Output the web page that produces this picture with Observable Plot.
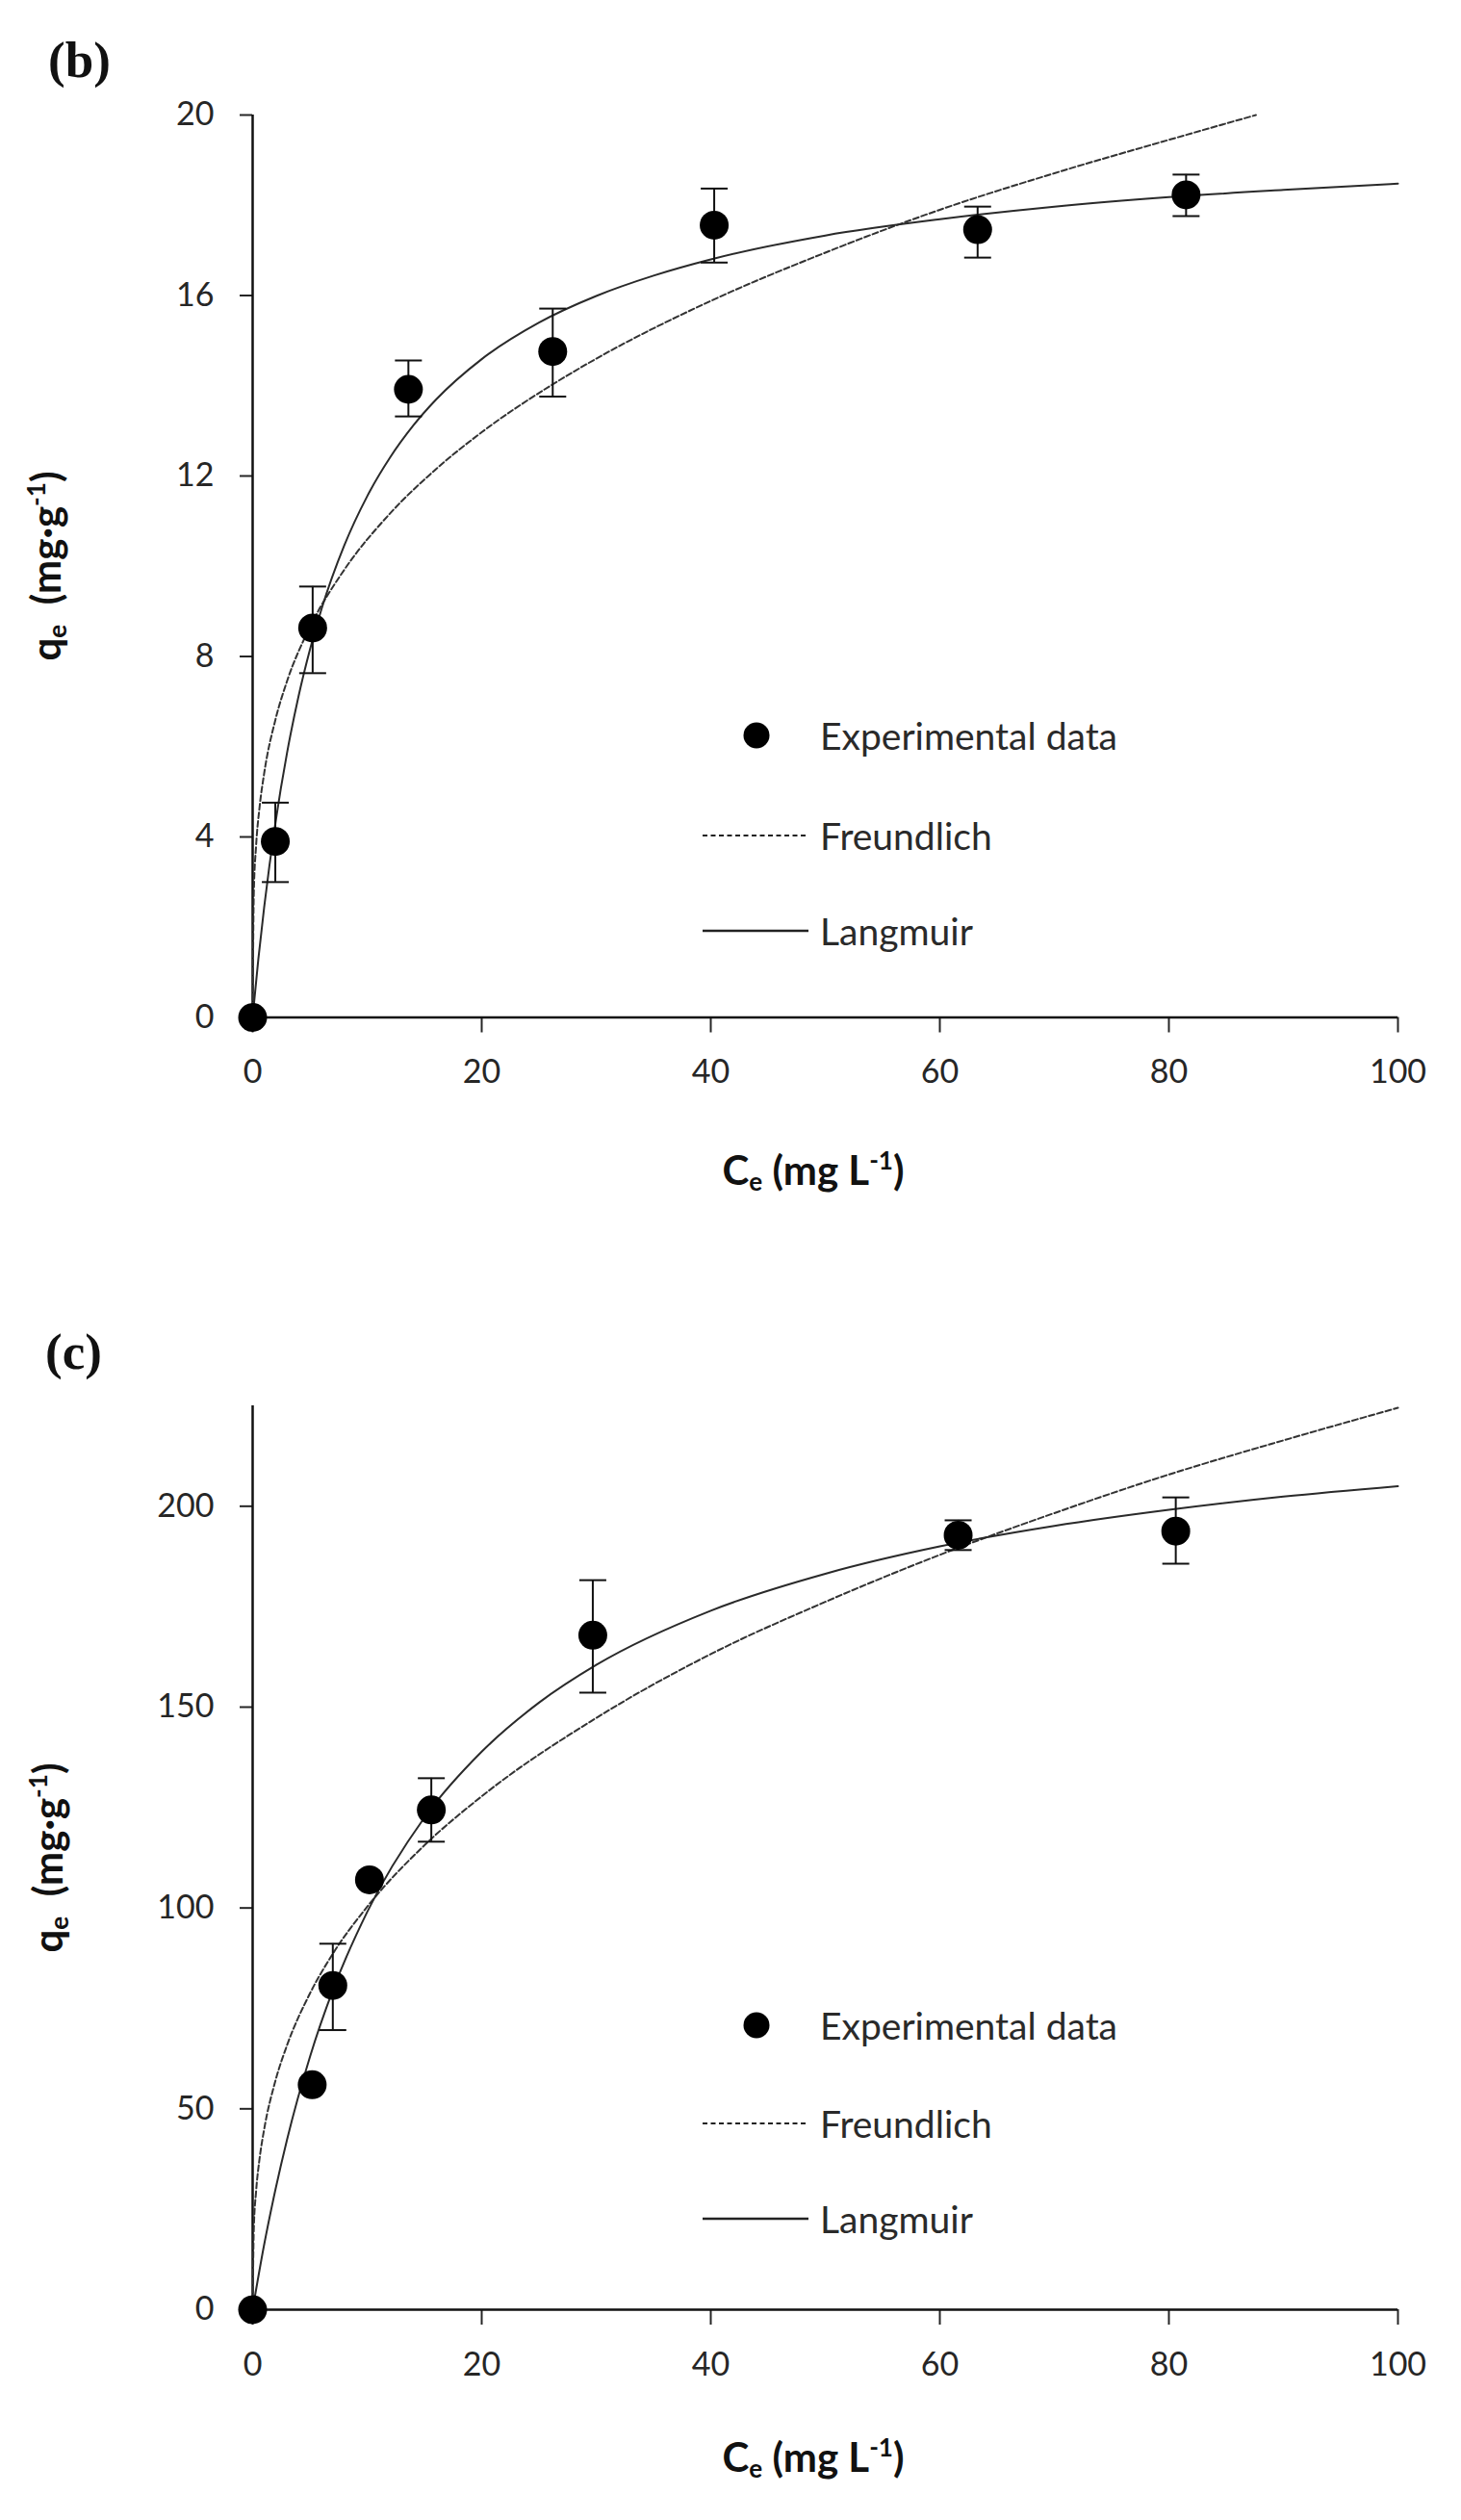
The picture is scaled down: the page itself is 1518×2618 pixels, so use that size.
<!DOCTYPE html>
<html><head><meta charset="utf-8">
<script src="https://cdn.jsdelivr.net/npm/d3@7"></script>
<script src="https://cdn.jsdelivr.net/npm/@observablehq/plot@0.6"></script>
<style>
body{margin:0;background:#fff;}
#wrap{position:relative;width:1518px;height:2618px;overflow:hidden;font-family:Lato,"Open Sans",sans-serif;color:#222;}
.panel{position:absolute;left:0;}
.lbl{position:absolute;font-family:"Liberation Serif","Times New Roman",serif;font-weight:bold;font-size:53px;line-height:1;color:#111;}
.xt,.yt{position:absolute;font-weight:bold;font-size:42px;white-space:nowrap;line-height:1;color:#111;}
.xt{transform:translate(-50%,-50%);}
.yt{transform:translate(-50%,-50%) rotate(-90deg);}
.xt sub,.yt sub{font-size:0.62em;vertical-align:-0.25em;}
.xt sup,.yt sup{font-size:0.62em;vertical-align:0.6em;}
.lt{position:absolute;font-size:39px;line-height:1;transform:translateY(-50%);white-space:nowrap;color:#2a2a2a;}
.sw{position:absolute;}
</style>
</head><body>
<div id="wrap"></div>
<script>
// ---- Panel (b) data ----
const bX  = [0, 1.98, 5.24, 13.6, 26.2, 40.3, 63.3, 81.5];
const bY  = [0, 3.90, 8.63, 13.92, 14.76, 17.56, 17.46, 18.23];
const bLo = [null, 3.00, 7.63, 13.32, 13.76, 16.73, 16.84, 17.76];
const bHi = [null, 4.76, 9.55, 14.56, 15.71, 18.37, 17.97, 18.68];
const bLangX = [0, 0.5, 1, 2, 3, 4, 5, 6, 8, 10, 12, 14, 16, 20, 25, 30, 35, 40, 50, 60, 70, 80, 90, 100];
const bLangY = [0, 1.30, 2.43, 4.33, 5.86, 7.11, 8.15, 9.04, 10.46, 11.55, 12.41, 13.11, 13.69, 14.59, 15.40, 15.99, 16.44, 16.80, 17.33, 17.69, 17.97, 18.18, 18.34, 18.48];
const bFreuX = [0, 0.1, 0.3, 0.6, 1, 2, 3, 5, 8, 12, 16, 20, 26, 30, 40, 50, 60, 70, 80, 87.6];
const bFreuY = [0, 2.75, 3.80, 4.65, 5.40, 6.61, 7.45, 8.65, 9.92, 11.17, 12.15, 12.97, 14.0, 14.6, 15.88, 16.95, 17.90, 18.71, 19.45, 20.0];
const bYTicks = [0, 4, 8, 12, 16, 20];

// ---- Panel (c) data ----
const cX  = [0, 5.2, 7.0, 10.2, 15.6, 29.7, 61.6, 80.6];
const cY  = [0, 56.0, 80.7, 107.0, 124.4, 167.9, 192.8, 193.8];
const cLo = [null, null, 69.6, null, 116.5, 153.6, 189.1, 185.7];
const cHi = [null, null, 91.1, null, 132.3, 181.6, 196.5, 202.2];
const cLangX = [0, 1, 2, 3, 5, 7, 10, 15, 20, 25, 30, 40, 50, 60, 70, 80, 90, 100];
const cLangY = [0, 16.1, 30.0, 42.3, 62.9, 79.5, 99.0, 122.5, 138.9, 151.1, 160.5, 174.0, 183.2, 190.0, 195.1, 199.1, 202.4, 205.0];
const cFreuX = [0, 0.1, 0.3, 0.6, 1, 2, 3, 5, 7, 10, 15, 20, 30, 40, 50, 60, 70, 80, 90, 100];
const cFreuY = [0, 20.0, 29.4, 37.5, 44.8, 57.1, 65.8, 78.7, 88.6, 100.3, 115.6, 127.8, 147.3, 163.2, 176.2, 187.9, 198.3, 207.9, 216.4, 224.5];
const cYTicks = [0, 50, 100, 150, 200];

const xTicks = [0, 20, 40, 60, 80, 100];
const legendLabels = ["Experimental data", "Freundlich", "Langmuir"];

const zip = (xs, ys) => xs.map((x, i) => ({x, y: ys[i]}));
const pts = (xs, ys, lo, hi) => xs.map((x, i) => ({x, y: ys[i], lo: lo[i], hi: hi[i]}));
const capSymbol = {draw(ctx) { ctx.moveTo(-14, 0); ctx.lineTo(14, 0); }};

function panel({data, lang, freu, yDomain, yTicks, height, marginTop, marginBottom}) {
  const errs = data.filter(d => d.lo != null);
  return Plot.plot({
    width: 1518, height, marginLeft: 262, marginRight: 66, marginTop, marginBottom,
    x: {domain: [0, 100]},
    y: {domain: yDomain},
    style: {fontFamily: "Lato, 'Open Sans', sans-serif", background: "white", overflow: "visible"},
    marks: [
      Plot.axisX({ticks: xTicks, tickSize: 16, tickPadding: 28, fontSize: 34, label: null, strokeWidth: 2, color: "#262626"}),
      Plot.axisY({ticks: yTicks, tickSize: 13, tickPadding: 27, fontSize: 34, label: null, strokeWidth: 2, color: "#262626"}),
      Plot.ruleX([0], {stroke: "#111", strokeWidth: 2.5}),
      Plot.ruleY([0], {stroke: "#111", strokeWidth: 2.5}),
      Plot.line(freu, {x: "x", y: "y", curve: "monotone-x", stroke: "#333", strokeWidth: 2, strokeDasharray: "6,3"}),
      Plot.line(lang, {x: "x", y: "y", curve: "monotone-x", stroke: "#2a2a2a", strokeWidth: 2}),
      Plot.ruleX(errs, {x: "x", y1: "lo", y2: "hi", stroke: "#111", strokeWidth: 2}),
      Plot.dot(errs, {x: "x", y: "hi", symbol: capSymbol, stroke: "#111", fill: "none", strokeWidth: 2}),
      Plot.dot(errs, {x: "x", y: "lo", symbol: capSymbol, stroke: "#111", fill: "none", strokeWidth: 2}),
      Plot.dot(data, {x: "x", y: "y", r: 15, fill: "#000", stroke: "none"})
    ]
  });
}

const wrap = document.getElementById("wrap");
function addPanel(top, opts) {
  const el = panel(opts);
  el.classList.add("panel");
  el.style.top = top + "px";
  wrap.appendChild(el);
}
addPanel(0, {data: pts(bX, bY, bLo, bHi), lang: zip(bLangX, bLangY), freu: zip(bFreuX, bFreuY),
  yDomain: [0, 20], yTicks: bYTicks, height: 1300, marginTop: 119, marginBottom: 243.5});
addPanel(1340, {data: pts(cX, cY, cLo, cHi), lang: zip(cLangX, cLangY), freu: zip(cFreuX, cFreuY),
  yDomain: [0, 225], yTicks: cYTicks, height: 1278, marginTop: 120, marginBottom: 219});

function add(html, cls, left, top) {
  const d = document.createElement("div");
  d.className = cls; d.innerHTML = html;
  d.style.left = left + "px"; d.style.top = top + "px";
  wrap.appendChild(d);
  return d;
}
function swatch(left, cy, kind) {
  const ns = "http://www.w3.org/2000/svg";
  const s = document.createElementNS(ns, "svg");
  s.setAttribute("class", "sw");
  if (kind === "dot") {
    s.setAttribute("width", 30); s.setAttribute("height", 30);
    s.style.left = (left - 15) + "px"; s.style.top = (cy - 15) + "px";
    const c = document.createElementNS(ns, "circle");
    c.setAttribute("cx", 15); c.setAttribute("cy", 15); c.setAttribute("r", 13.5); c.setAttribute("fill", "#000");
    s.appendChild(c);
  } else {
    s.setAttribute("width", 110); s.setAttribute("height", 10);
    s.style.left = left + "px"; s.style.top = (cy - 5) + "px";
    const l = document.createElementNS(ns, "line");
    l.setAttribute("x1", 0); l.setAttribute("x2", 110); l.setAttribute("y1", 5); l.setAttribute("y2", 5);
    l.setAttribute("stroke", "#222"); l.setAttribute("stroke-width", kind === "dash" ? 2 : 2.5);
    if (kind === "dash") l.setAttribute("stroke-dasharray", "5,3.5");
    s.appendChild(l);
  }
  wrap.appendChild(s);
}
function legend(rows) {
  swatch(786, rows[0], "dot");
  swatch(730, rows[1], "dash");
  swatch(730, rows[2], "solid");
  legendLabels.forEach((t, i) => add(t, "lt", 852, rows[i]));
}
// Panel (b) annotations
add("(b)", "lbl", 50, 36);
add("q<sub>e</sub>&nbsp; (mg·g<sup>-1</sup>)", "yt", 48, 588);
add("C<sub>e</sub> (mg L<sup>-1</sup>)", "xt", 845, 1216);
legend([764, 868, 967]);
// Panel (c) annotations
add("(c)", "lbl", 47, 1378);
add("q<sub>e</sub>&nbsp; (mg·g<sup>-1</sup>)", "yt", 50, 1930);
add("C<sub>e</sub> (mg L<sup>-1</sup>)", "xt", 845, 2553);
legend([2104, 2206, 2305]);
</script>
</body></html>
